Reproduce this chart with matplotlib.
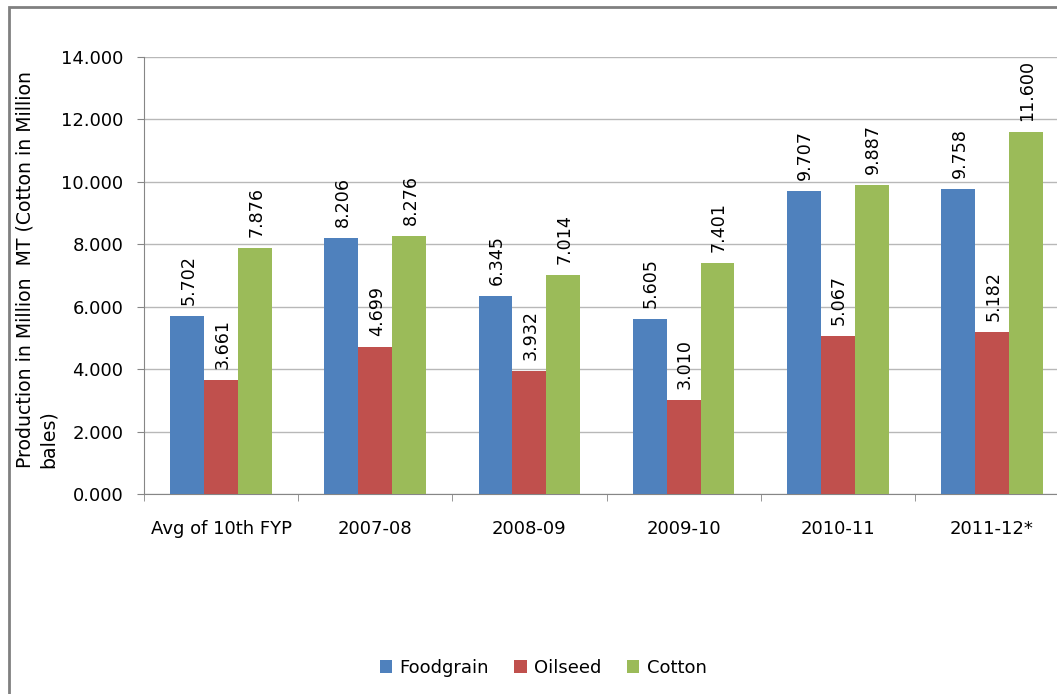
import matplotlib
matplotlib.use("Agg")
import matplotlib.pyplot as plt
import numpy as np
from matplotlib.patches import Rectangle

categories = ["Avg of 10th FYP", "2007-08", "2008-09", "2009-10", "2010-11", "2011-12*"]
foodgrain = [5.702, 8.206, 6.345, 5.605, 9.707, 9.758]
oilseed = [3.661, 4.699, 3.932, 3.010, 5.067, 5.182]
cotton = [7.876, 8.276, 7.014, 7.401, 9.887, 11.600]
series_names = ["Foodgrain", "Oilseed", "Cotton"]
colors = ["#4F81BD", "#C0504D", "#9BBB59"]

plt.rcParams['font.family'] = ['DejaVu Sans']
FS = 13

fig = plt.figure(figsize=(10.57, 6.94), dpi=100)
fig.patches.append(Rectangle((9/1057, -0.1), 1.2, 1 - 7/694 + 0.1, transform=fig.transFigure,
                             fill=False, edgecolor="#808080", linewidth=2, zorder=0))

ax = fig.add_axes([144/1057, 1 - 494/694, (1069-144)/1057, (494-57)/694])
x = np.arange(len(categories))
w = 0.22
for i, (vals, name, c) in enumerate(zip([foodgrain, oilseed, cotton], series_names, colors)):
    bars = ax.bar(x + (i - 1) * w, vals, w, color=c, label=name, zorder=3)
    for b, v in zip(bars, vals):
        ax.annotate(f"{v:.3f}", (b.get_x() + b.get_width()/2, v), xytext=(1, 8),
                    textcoords="offset points", rotation=90, ha="center", va="bottom",
                    fontsize=12.6, color="#000000")

ax.set_xlim(-0.5, len(categories) - 0.5)
ax.set_ylim(0, 14)
ax.set_yticks(np.arange(0, 14.01, 2))
ax.set_yticklabels([f"{v:.3f}" for v in np.arange(0, 14.01, 2)], fontsize=FS)
ax.set_xticks(x)
ax.set_xticklabels(categories, fontsize=FS)
ax.set_xticks(np.arange(-0.5, len(categories), 1), minor=True)
ax.tick_params(axis="x", which="major", length=0, pad=18.5)
ax.tick_params(axis="x", which="minor", length=5, color="#868686", direction="out")
ax.tick_params(axis="y", length=5, color="#868686", direction="out", pad=10)
ax.yaxis.grid(True, color="#B8B8B8", linewidth=1, zorder=0)
ax.set_axisbelow(True)
for s in ["top", "right"]:
    ax.spines[s].set_visible(False)
ax.spines["left"].set_color("#868686")
ax.spines["bottom"].set_color("#868686")

ax.set_ylabel("Production in Million  MT (Cotton in Million\nbales)", fontsize=13.6,
              multialignment="left", linespacing=1.3)
ax.yaxis.set_label_coords(-0.093, 0.513)

handles, labels = ax.get_legend_handles_labels()
fig.legend(handles, labels, loc="center", bbox_to_anchor=(543/1057, 1 - 668/694), ncol=3,
           frameon=False, fontsize=FS, handlelength=0.7, handleheight=0.7,
           handletextpad=0.4, columnspacing=1.4)

fig.savefig("out.png", dpi=100)
